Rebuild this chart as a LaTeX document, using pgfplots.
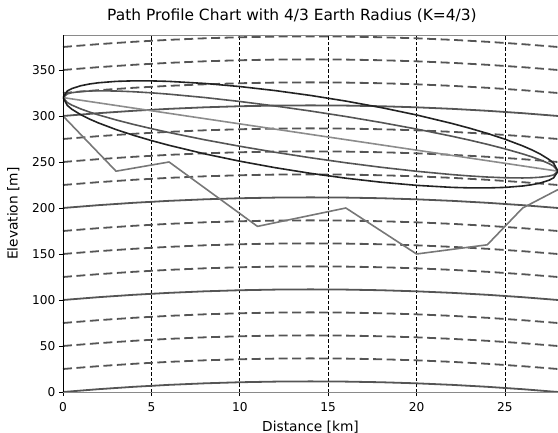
\documentclass[border=0pt]{standalone}
\usepackage{pgfplots}
\pgfplotsset{compat=1.18}
\usepackage{pgfplotstable}
\usepackage{fontspec}
\setmainfont{DejaVu Sans}
\definecolor{curvec}{HTML}{555555}
\definecolor{terrainc}{HTML}{777777}
\definecolor{losc}{HTML}{8C8C8C}
\definecolor{outerc}{HTML}{222222}
\definecolor{innerc}{HTML}{555555}
\definecolor{spinec}{HTML}{8A8A8A}

\pgfplotstableread{
d c0 c25 c50 c75 c100 c125 c150 c175 c200 c225 c250 c275 c300 c325 c350 c375
0 0 25 50 75 100 125 150 175 200 225 250 275 300 325 350 375
2 3.06 28.06 53.06 78.06 103.06 128.06 153.06 178.06 203.06 228.06 253.06 278.06 303.06 328.06 353.06 378.06
4 5.65 30.65 55.65 80.65 105.65 130.65 155.65 180.65 205.65 230.65 255.65 280.65 305.65 330.65 355.65 380.65
6 7.77 32.77 57.77 82.77 107.77 132.77 157.77 182.77 207.77 232.77 257.77 282.77 307.77 332.77 357.77 382.77
8 9.42 34.42 59.42 84.42 109.42 134.42 159.42 184.42 209.42 234.42 259.42 284.42 309.42 334.42 359.42 384.42
10 10.60 35.60 60.60 85.60 110.60 135.60 160.60 185.60 210.60 235.60 260.60 285.60 310.60 335.60 360.60 385.60
12 11.30 36.30 61.30 86.30 111.30 136.30 161.30 186.30 211.30 236.30 261.30 286.30 311.30 336.30 361.30 386.30
14 11.54 36.54 61.54 86.54 111.54 136.54 161.54 186.54 211.54 236.54 261.54 286.54 311.54 336.54 361.54 386.54
16 11.30 36.30 61.30 86.30 111.30 136.30 161.30 186.30 211.30 236.30 261.30 286.30 311.30 336.30 361.30 386.30
18 10.60 35.60 60.60 85.60 110.60 135.60 160.60 185.60 210.60 235.60 260.60 285.60 310.60 335.60 360.60 385.60
20 9.42 34.42 59.42 84.42 109.42 134.42 159.42 184.42 209.42 234.42 259.42 284.42 309.42 334.42 359.42 384.42
22 7.77 32.77 57.77 82.77 107.77 132.77 157.77 182.77 207.77 232.77 257.77 282.77 307.77 332.77 357.77 382.77
24 5.65 30.65 55.65 80.65 105.65 130.65 155.65 180.65 205.65 230.65 255.65 280.65 305.65 330.65 355.65 380.65
26 3.06 28.06 53.06 78.06 103.06 128.06 153.06 178.06 203.06 228.06 253.06 278.06 303.06 328.06 353.06 378.06
28 0 25 50 75 100 125 150 175 200 225 250 275 300 325 350 375
}\curves

\pgfplotstableread{
d h
0 300
3 240
6 250
11 180
16 200
20 150
24 160
26 200
28 220
}\terrain

\pgfplotstableread{
d top bot
0 320 320
0.25 327.25 311.33
0.5 329.78 307.36
1 332.85 301.43
1.5 334.77 296.65
2 336.09 292.49
3 337.62 285.24
4 338.20 278.94
5 338.14 273.28
6 337.60 268.12
8 335.39 258.89
10 332.00 250.86
12 327.61 243.81
14 322.33 237.67
16 316.19 232.39
18 309.14 228.00
20 301.11 224.61
22 291.88 222.40
23 286.72 221.86
24 281.06 221.80
25 274.76 222.38
26 267.51 223.91
26.5 263.35 225.23
27 258.57 227.15
27.5 252.64 230.22
27.75 248.67 232.75
28 240 240
}\outer

\pgfplotstableread{
d top bot
0 320 320
0.25 324.07 314.51
0.5 325.30 311.84
1 326.57 307.71
1.5 327.15 304.27
2 327.37 301.21
3 327.14 295.72
4 326.35 290.79
5 325.17 286.25
6 323.70 282.02
8 320.09 274.19
10 315.77 267.09
12 310.85 260.57
14 305.40 254.60
16 299.43 249.15
18 292.91 244.23
20 285.81 239.91
22 277.98 236.30
23 273.75 234.83
24 269.21 233.65
25 264.28 232.86
26 258.79 232.63
26.5 255.73 232.85
27 252.29 233.43
27.5 248.16 234.70
27.75 245.49 235.93
28 240 240
}\inner

\begin{document}
\begin{tikzpicture}
\begin{axis}[
  name=ax,
  scale only axis,
  width=495bp, height=356.7bp,
  xmin=0, xmax=28, ymin=0, ymax=387.7,
  xtick={0,5,10,15,20,25},
  ytick={0,50,100,150,200,250,300,350},
  tick align=outside,
  major tick length=4bp,
  xtick pos=bottom, ytick pos=left,
  tick style={black, line width=0.8bp},
  axis line style={draw=none},
  xmajorgrids=true, ymajorgrids=false,
  grid style={black, line width=0.7bp, dash pattern=on 3.5bp off 2bp},
  /pgf/number format/assume math mode=true,
  ticklabel style={font=\fontsize{12.2}{14}\selectfont, text=black},
  xticklabel style={inner sep=0pt, anchor=north, yshift=-6bp},
  yticklabel style={inner sep=0pt, anchor=east, xshift=-3.5bp},
  xlabel={Distance [km]},
  ylabel={Elevation [m]},
  label style={font=\fontsize{13.8}{16}\selectfont},
  xlabel style={at={(axis description cs:0.5,0)}, anchor=base, yshift=-39bp},
  ylabel style={at={(axis description cs:-0.0919,0.5)}, anchor=base},
  title={Path Profile Chart with 4/3 Earth Radius (K=4/3)},
  title style={at={(axis description cs:0.4626,1)}, anchor=base, yshift=8.8bp, font=\fontsize{15.5}{18}\selectfont},
  every axis plot/.append style={line join=round},
]
\foreach \c in {c25,c50,c75,c125,c150,c175,c225,c250,c275,c325,c350,c375} {
  \addplot[curvec, line width=1.8bp, dash pattern=on 9bp off 4.5bp] table[x=d, y=\c] {\curves};
}
\foreach \c in {c0,c100,c200,c300} {
  \addplot[curvec, line width=1.8bp] table[x=d, y=\c] {\curves};
}
\addplot[terrainc, line width=1.6bp] table[x=d, y=h] {\terrain};
\addplot[losc, line width=1.6bp] coordinates {(0,320) (28,240)};
\addplot[innerc, line width=1.6bp] table[x=d, y=top] {\inner};
\addplot[innerc, line width=1.6bp] table[x=d, y=bot] {\inner};
\addplot[outerc, line width=1.6bp] table[x=d, y=top] {\outer};
\addplot[outerc, line width=1.6bp] table[x=d, y=bot] {\outer};
\draw[spinec, line width=1bp] (rel axis cs:0,1) -- (rel axis cs:1,1);
\draw[spinec, line width=1bp] (rel axis cs:0,0) -- (rel axis cs:1,0);
\draw[black, line width=0.9bp] (rel axis cs:0,0) -- (rel axis cs:0,1);
\end{axis}
\pgfresetboundingbox
\path ([xshift=-63bp, yshift=-41bp]ax.south west) rectangle ([yshift=35.3bp]ax.north east);
\end{tikzpicture}
\end{document}
